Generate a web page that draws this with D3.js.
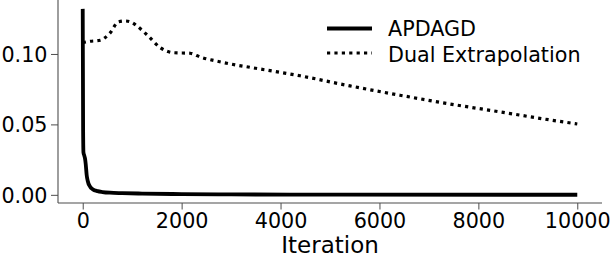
<!DOCTYPE html>
<html>
<head>
<meta charset="utf-8">
<script src="https://cdn.jsdelivr.net/npm/d3@7"></script>
<style>
  html, body { margin: 0; padding: 0; background: #fff; }
  svg { display: block; }
  text { font-family: "DejaVu Sans", sans-serif; fill: #000; }
</style>
</head>
<body>
<svg id="chart" width="612" height="258"></svg>
<script>
// ---- data ----
const seriesNames = ["APDAGD", "Dual Extrapolation"];
const apdagdIter = [0, 8, 15, 30, 45, 60, 80, 100, 150, 200, 300, 400, 550, 800, 1200, 2000, 3000, 5000, 10000];
const apdagdVal  = [0.132, 0.045, 0.030, 0.028, 0.026, 0.022, 0.014, 0.010, 0.0057, 0.0040, 0.0026, 0.0020, 0.0015, 0.0012, 0.0009, 0.0005, 0.0003, 0.0001, 0.00005];
const dualIter = [0, 150, 354, 450, 555, 717, 859, 1000, 1095, 1323, 1566, 1830, 2172, 2400, 2700, 3000, 3384, 4394, 5404, 6414, 7424, 8434, 9444, 10000];
const dualVal  = [0.1081, 0.1090, 0.1097, 0.1115, 0.1150, 0.1227, 0.1234, 0.1222, 0.1199, 0.1128, 0.1045, 0.1009, 0.1005, 0.0975, 0.0950, 0.0928, 0.0905, 0.0845, 0.0773, 0.0707, 0.0645, 0.0589, 0.0532, 0.0503];
const xTicks = [0, 2000, 4000, 6000, 8000, 10000];
const yTicks = [0.00, 0.05, 0.10];
const xLabel = "Iteration";

// ---- layout ----
const svg = d3.select("#chart");
const mLeft = 58, mRight = 602, mTop = 0, mBottom = 203;
const x = d3.scaleLinear().domain([-500, 10500]).range([mLeft, mRight]);
const y = d3.scaleLinear().domain([-0.0058, 0.1383]).range([mBottom, mTop]);
const axisColor = "#4d4d4d";
const tickFont = 20.7;

svg.append("defs").append("clipPath").attr("id", "clip")
  .append("rect").attr("x", mLeft).attr("y", mTop).attr("width", mRight - mLeft).attr("height", mBottom - mTop);

// axes
const xAxis = svg.append("g").attr("transform", `translate(0,${mBottom})`)
  .call(d3.axisBottom(x).tickValues(xTicks).tickFormat(d3.format("d")).tickSize(6.5).tickPadding(4));
const yAxis = svg.append("g").attr("transform", `translate(${mLeft},0)`)
  .call(d3.axisLeft(y).tickValues(yTicks).tickFormat(d3.format(".2f")).tickSize(7).tickPadding(3.5));
[xAxis, yAxis].forEach(g => {
  g.select(".domain").remove();
  g.selectAll(".tick line").attr("stroke", axisColor).attr("stroke-width", 1);
  g.selectAll(".tick text").style("font-size", tickFont + "px").attr("fill", "#000")
    .style("font-family", "'DejaVu Sans', sans-serif");
});
yAxis.selectAll(".tick text").attr("dy", "0.36em");
// spines
svg.append("line").attr("x1", mLeft).attr("x2", mLeft).attr("y1", mTop).attr("y2", mBottom)
  .attr("stroke", axisColor).attr("stroke-width", 1.1);
svg.append("line").attr("x1", mLeft).attr("x2", mRight).attr("y1", mBottom).attr("y2", mBottom)
  .attr("stroke", axisColor).attr("stroke-width", 1.1);

// x label
svg.append("text").attr("x", (mLeft + mRight) / 2).attr("y", 252.5)
  .attr("text-anchor", "middle").style("font-size", "23px").text(xLabel);

// lines
const line = d3.line().x(d => x(d[0])).y(d => y(d[1])).curve(d3.curveMonotoneX);
const apdagd = apdagdIter.map((d, i) => [d, apdagdVal[i]]);
const dual = dualIter.map((d, i) => [d, dualVal[i]]);

const plot = svg.append("g").attr("clip-path", "url(#clip)");
plot.append("path").datum(dual).attr("d", line)
  .attr("fill", "none").attr("stroke", "#000").attr("stroke-width", 3.2)
  .attr("stroke-dasharray", "3.2,4.2");
plot.append("path").datum(apdagd).attr("d", line)
  .attr("fill", "none").attr("stroke", "#000").attr("stroke-width", 3.8)
  .attr("stroke-linejoin", "round");

// legend
const legend = svg.append("g");
const legRows = [
  { name: seriesNames[0], dash: null, w: 3.8, ly: 28.5, ty: 36 },
  { name: seriesNames[1], dash: "3.2,4.2", w: 3.2, ly: 53, ty: 61.5 }
];
legRows.forEach(r => {
  const l = legend.append("line").attr("x1", 327).attr("x2", 372).attr("y1", r.ly).attr("y2", r.ly)
    .attr("stroke", "#000").attr("stroke-width", r.w);
  if (r.dash) l.attr("stroke-dasharray", r.dash);
  legend.append("text").attr("x", 388).attr("y", r.ty).style("font-size", tickFont + "px").text(r.name);
});
</script>
</body>
</html>
